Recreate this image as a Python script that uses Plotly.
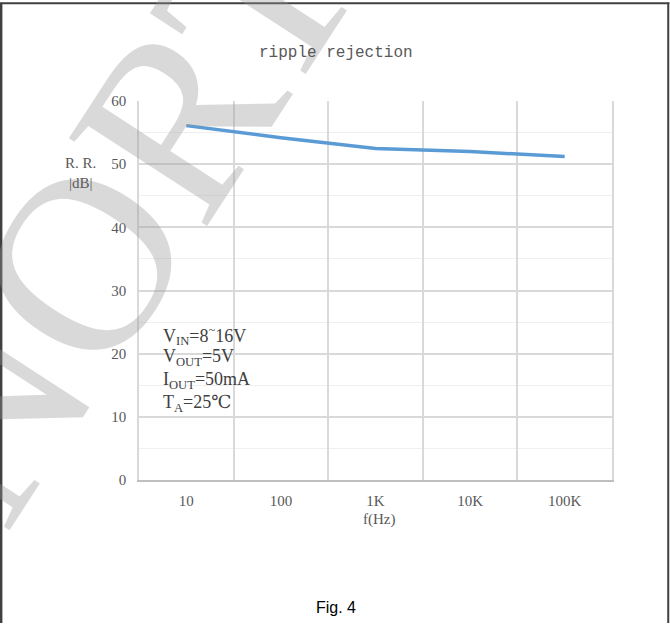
import plotly.graph_objects as go

# ---- data ----
freq_labels = ["10", "100", "1K", "10K", "100K"]
rr_db = [56.1, 54.2, 52.5, 52.0, 51.2]
y_ticks = [0, 10, 20, 30, 40, 50, 60]
cond_lines = [
    "V<sub>IN</sub>=8<sup>~</sup>16V",
    "V<sub>OUT</sub>=5V",
    "I<sub>OUT</sub>=50mA",
    "T<sub>A</sub>=25℃",
]

W_PAGE, H_PAGE = 670, 624
L, R, T, B = 139, 612.5, 100.5, 480.5
PW, PH = R - L, B - T


def px(x):
    return (x - L) / PW


def py(y):
    return (B - y) / PH


SERIF = "Liberation Serif, DejaVu Serif, serif"

fig = go.Figure()
fig.add_trace(go.Scatter(
    x=freq_labels, y=rr_db, mode="lines",
    line=dict(color="#5b9bd5", width=3.5),
    showlegend=False, hoverinfo="skip",
))

annotations = []
# watermark
annotations.append(dict(
    text="NORTH", xref="paper", yref="paper", x=px(165), y=py(135),
    xanchor="center", yanchor="middle", showarrow=False, textangle=-57,
    font=dict(family=SERIF, size=250, color="rgba(150,150,150,0.36)"),
))
annotations.append(dict(
    text="ripple rejection", xref="paper", yref="paper", x=px(336), y=py(52),
    xanchor="center", yanchor="middle", showarrow=False,
    font=dict(family="Liberation Mono, DejaVu Sans Mono, monospace", size=16, color="#595959"),
))
annotations.append(dict(
    text="R. R.<br>|dB|", xref="paper", yref="paper", x=px(80), y=py(173),
    xanchor="center", yanchor="middle", showarrow=False, align="center",
    font=dict(family=SERIF, size=15, color="#595959"),
))
annotations.append(dict(
    text="f(Hz)", xref="paper", yref="paper", x=px(379), y=py(520),
    xanchor="center", yanchor="middle", showarrow=False,
    font=dict(family=SERIF, size=15, color="#595959"),
))
for i, (t, yc) in enumerate(zip(cond_lines, [336, 358, 381, 404])):
    annotations.append(dict(
        text=t, xref="paper", yref="paper", x=px(161), y=py(yc),
        xanchor="left", yanchor="middle", showarrow=False,
        font=dict(family=SERIF, size=18, color="#404040"),
    ))
annotations.append(dict(
    text="Fig. 4", xref="paper", yref="paper", x=px(336), y=py(608),
    xanchor="center", yanchor="middle", showarrow=False,
    font=dict(family="Liberation Sans, Arial, sans-serif", size=16, color="#000000"),
))

shapes = [
    dict(type="line", xref="paper", yref="paper", x0=px(1), x1=px(1), y0=py(2), y1=py(624),
         line=dict(color="#404040", width=2.5)),
    dict(type="line", xref="paper", yref="paper", x0=px(0), x1=px(670), y0=py(2.5), y1=py(2.5),
         line=dict(color="#404040", width=2)),
    dict(type="line", xref="paper", yref="paper", x0=px(668.8), x1=px(668.8), y0=py(2), y1=py(624),
         line=dict(color="#404040", width=2)),
]

fig.update_layout(
    width=W_PAGE, height=H_PAGE,
    margin=dict(l=L, r=W_PAGE - R, t=T, b=H_PAGE - B, pad=0),
    paper_bgcolor="white", plot_bgcolor="white",
    annotations=annotations, shapes=shapes,
    showlegend=False,
)
fig.update_xaxes(
    type="category", range=[-0.5, 4.5], tickson="boundaries",
    showgrid=True, gridcolor="#d9d9d9", gridwidth=1.5,
    showline=True, linecolor="#bfbfbf", linewidth=1.5,
    ticks="", ticklabelstandoff=6,
    tickfont=dict(family=SERIF, size=15, color="#595959"),
)
fig.update_yaxes(
    range=[0, 60], tickvals=y_ticks,
    showgrid=True, gridcolor="#d9d9d9", gridwidth=1.5,
    minor=dict(dtick=5, showgrid=True, gridcolor="#efefef", gridwidth=1.2),
    showline=True, linecolor="#d9d9d9", linewidth=1.5, mirror=True,
    zeroline=False, ticks="", ticklabelstandoff=8,
    tickfont=dict(family=SERIF, size=15, color="#595959"),
)

fig.write_html("out.html")
